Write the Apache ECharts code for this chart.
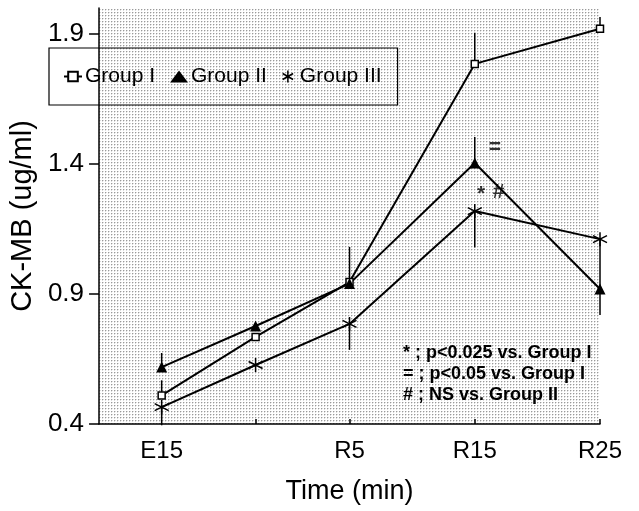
<!DOCTYPE html>
<html>
<head>
<meta charset="utf-8">
<script src="https://cdn.jsdelivr.net/npm/echarts@6/dist/echarts.min.js"></script>
<style>
  html, body { margin: 0; padding: 0; background: #fff; }
  #main { width: 639px; height: 511px; }
</style>
</head>
<body>
<div id="main"></div>
<script>
// time points (min on a common scale, E15 = 0)
var times = [0, 7.5, 15, 25, 35];
var tickValues = [0, 15, 25, 35];
var tickNames = ['E15', 'R5', 'R15', 'R25'];
var yTicks = [0.4, 0.9, 1.4, 1.9];

// CK-MB means (ug/ml)
var groupI = [0.51, 0.735, 0.946, 1.785, 1.92];
var groupII = [0.619, 0.777, 0.94, 1.404, 0.919];
var groupIII = [0.465, 0.627, 0.785, 1.219, 1.111];

// error bars, signed: + drawn up, - drawn down
var errI = [0.058, 0, 0.135, 0.12, 0.045];
var errII = [0.054, 0, 0, 0.1, -0.1];
var errIII = [-0.07, 0, -0.1, -0.14, -0.18];

// significance marks near R15
var marks = [[26.6, 1.465, '='], [25.5, 1.285, '*'], [26.9, 1.29, '#']];

var notes = ['* ; p<0.025 vs. Group I', '= ; p<0.05 vs. Group I', '# ; NS vs. Group II'];

var FONT = 'Liberation Sans, Arial, sans-serif';
var STAR = 'path://M0,-10L0,10M-8.7,-5L8.7,5M-8.7,5L8.7,-5';

function dotPattern() {
    var c = document.createElement('canvas');
    c.width = 3; c.height = 3;
    var g = c.getContext('2d');
    g.fillStyle = '#fff'; g.fillRect(0, 0, 3, 3);
    g.fillStyle = '#9a9a9a'; g.fillRect(0, 0, 1, 1);
    g.fillStyle = '#dcdcdc'; g.fillRect(1, 0, 1, 1); g.fillRect(0, 1, 1, 1);
    return c;
}

function pairs(ys) {
    return times.map(function (t, i) { return [t, ys[i]]; });
}

function errData(ys, errs) {
    return times.map(function (t, i) { return [t, ys[i], ys[i] + errs[i]]; });
}

function errSeries(ys, errs) {
    return {
        type: 'custom',
        silent: true,
        data: errData(ys, errs),
        renderItem: function (params, api) {
            var a = api.coord([api.value(0), api.value(1)]);
            var b = api.coord([api.value(0), api.value(2)]);
            return {
                type: 'line',
                shape: { x1: a[0], y1: a[1], x2: b[0], y2: b[1] },
                style: { stroke: '#000', lineWidth: 1.5 }
            };
        },
        z: 1
    };
}

var myChart = echarts.init(document.getElementById('main'));

var option = {
    backgroundColor: '#fff',
    animation: false,
    textStyle: { fontFamily: FONT },
    grid: {
        left: 98, right: 39, top: 8, bottom: 87,
        show: true,
        borderWidth: 0,
        backgroundColor: { image: dotPattern(), repeat: 'repeat' }
    },
    legend: {
        left: 49, top: 48,
        padding: [18, 16, 18, 14],
        itemGap: 15,
        itemWidth: 18,
        itemHeight: 12,
        borderColor: '#000',
        borderWidth: 1.2,
        textStyle: { fontSize: 21, color: '#000', fontFamily: FONT, padding: [0, 0, 0, -2] },
        data: [
            { name: 'Group I' },
            { name: 'Group II', icon: 'triangle' },
            { name: 'Group III', icon: STAR, itemStyle: { color: '#000', borderColor: '#000', borderWidth: 1.5 } }
        ]
    },
    xAxis: {
        type: 'value',
        min: -5, max: 35, interval: 5,
        name: 'Time (min)',
        nameLocation: 'middle',
        nameGap: 54,
        nameTextStyle: { fontSize: 27, color: '#000', fontFamily: FONT },
        axisLine: { onZero: false, lineStyle: { color: '#000', width: 1.5 } },
        axisTick: { inside: true, length: 5, customValues: [7.5, 15, 25, 35], lineStyle: { color: '#000', width: 1.5 } },
        axisLabel: {
            customValues: tickValues,
            margin: 15,
            fontSize: 24,
            color: '#000',
            fontFamily: FONT,
            formatter: function (v) {
                var i = tickValues.indexOf(v);
                return i >= 0 ? tickNames[i] : '';
            }
        },
        splitLine: { show: false }
    },
    yAxis: {
        type: 'value',
        min: 0.4, max: 2.0, interval: 0.5,
        name: 'CK-MB (ug/ml)',
        nameLocation: 'middle',
        nameGap: 52,
        nameTextStyle: { fontSize: 29, color: '#000', fontFamily: FONT },
        axisLine: { show: true, onZero: false, lineStyle: { color: '#000', width: 1.5 } },
        axisTick: { show: true, length: 10, customValues: yTicks, lineStyle: { color: '#000', width: 1.5 } },
        axisLabel: {
            customValues: yTicks,
            margin: 15,
            fontSize: 26,
            color: '#000',
            fontFamily: FONT,
            formatter: function (v) { return v.toFixed(1); }
        },
        splitLine: { show: false }
    },
    series: [
        errSeries(groupI, errI),
        errSeries(groupII, errII),
        errSeries(groupIII, errIII),
        {
            name: 'Group I',
            type: 'line',
            data: pairs(groupI),
            symbol: 'rect',
            symbolSize: 7,
            itemStyle: { color: '#fff', borderColor: '#000', borderWidth: 1.5 },
            lineStyle: { color: '#000', width: 2 },
            z: 3
        },
        {
            name: 'Group II',
            type: 'line',
            data: pairs(groupII),
            symbol: 'triangle',
            symbolSize: 11,
            itemStyle: { color: '#000' },
            lineStyle: { color: '#000', width: 2 },
            z: 3
        },
        {
            name: 'Group III',
            type: 'line',
            data: pairs(groupIII),
            symbol: STAR,
            symbolSize: 14,
            itemStyle: { color: '#000', borderColor: '#000', borderWidth: 1.5 },
            lineStyle: { color: '#000', width: 2 },
            z: 3
        },
        {
            name: 'marks',
            type: 'scatter',
            silent: true,
            symbolSize: 0,
            data: marks,
            label: {
                show: true,
                position: 'inside',
                formatter: function (p) { return p.data[2]; },
                fontSize: 21,
                fontWeight: 'bold',
                color: '#000',
                fontFamily: FONT
            },
            z: 4
        }
    ],
    graphic: [{
        type: 'text',
        left: 403,
        top: 343,
        style: {
            text: notes.join('\n'),
            font: 'bold 18px ' + FONT,
            lineHeight: 21,
            fill: '#000'
        },
        z: 10
    }]
};

myChart.setOption(option);
</script>
</body>
</html>
